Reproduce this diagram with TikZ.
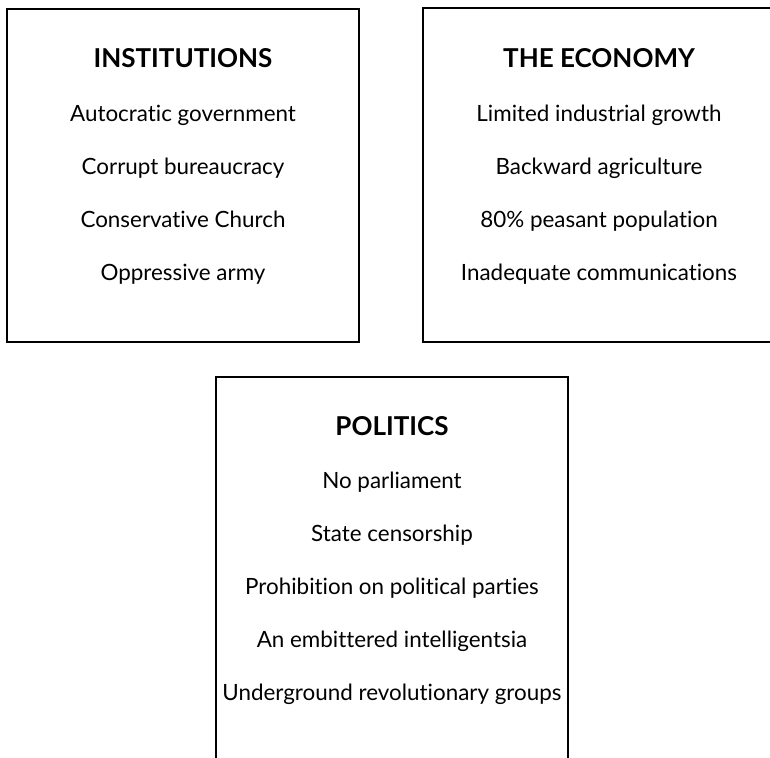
\documentclass[tikz,border=0pt]{standalone}
\usepackage{fontspec}
\setmainfont[Ligatures={NoCommon,NoContextual}]{Lato}
\begin{document}
\begin{tikzpicture}[x=0.75pt,y=-0.75pt,
        cadre/.style={line width=1.5pt},
        titre/.style={anchor=base,font=\fontsize{19.5}{22}\selectfont\bfseries},
        ligne/.style={anchor=base,font=\fontsize{16.8}{20}\selectfont}]
        % Page entiere, les cadres debordent a droite et en bas
        \useasboundingbox (0,0) rectangle (770,757);
        \clip (0,0) rectangle (770,757);

        % Cadre A : institutions
        \draw[cadre] (7,9) rectangle (359,342);
        \node[titre] (inst) at (183,67) {INSTITUTIONS};
        \node[ligne] (inst1) at (183,121) {Autocratic government};
        \node[ligne] (inst2) at (183,174) {Corrupt bureaucracy};
        \node[ligne] (inst3) at (183,227) {Conservative Church};
        \node[ligne] (inst4) at (183,280) {Oppressive army};

        % Cadre B : economie
        \draw[cadre] (423,8) rectangle (790,342);
        \node[titre] (eco) at (599,67) {THE ECONOMY};
        \node[ligne] (eco1) at (599,121) {Limited industrial growth};
        \node[ligne] (eco2) at (599,174) {Backward agriculture};
        \node[ligne] (eco3) at (599,227) {80\% peasant population};
        \node[ligne] (eco4) at (599,280) {Inadequate communications};

        % Cadre C : politique
        \draw[cadre] (216,377) rectangle (568,790);
        \node[titre] (pol) at (392,435) {POLITICS};
        \node[ligne] (pol1) at (392,488) {No parliament};
        \node[ligne] (pol2) at (392,541) {State censorship};
        \node[ligne] (pol3) at (392,594) {Prohibition on political parties};
        \node[ligne] (pol4) at (392,647) {An embittered intelligentsia};
        \node[ligne] (pol5) at (392,700) {Underground revolutionary groups};
    \end{tikzpicture}
\end{document}
